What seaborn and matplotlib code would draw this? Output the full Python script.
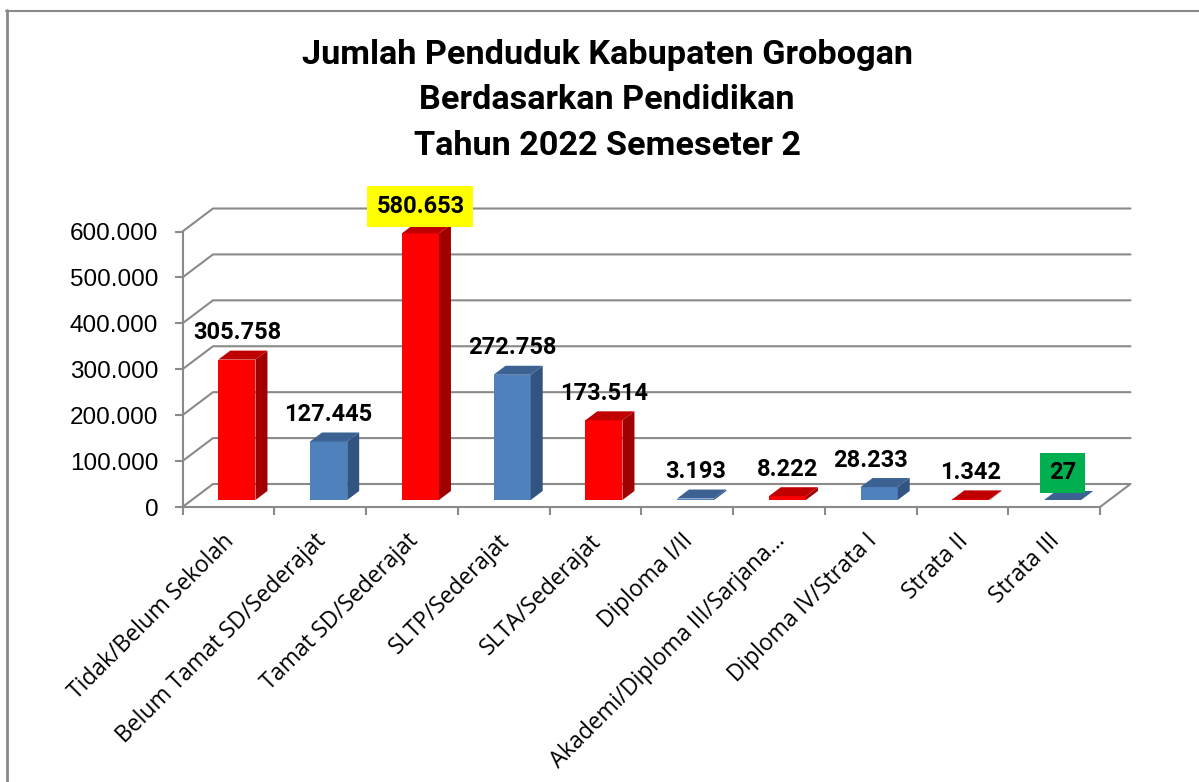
import matplotlib
matplotlib.use('Agg')
import matplotlib.pyplot as plt
import seaborn as sns
import pandas as pd
from matplotlib.lines import Line2D
from matplotlib.patches import Polygon
from matplotlib.ticker import FuncFormatter
from matplotlib.transforms import Affine2D, IdentityTransform

# Data
categories = ['Tidak/Belum Sekolah', 'Belum Tamat SD/Sederajat', 'Tamat SD/Sederajat',
              'SLTP/Sederajat', 'SLTA/Sederajat', 'Diploma I/II',
              'Akademi/Diploma III/Sarjana…', 'Diploma IV/Strata I', 'Strata II', 'Strata III']
values = [305758, 127445, 580653, 272758, 173514, 3193, 8222, 28233, 1342, 27]
bar_colors = ['#ff0000', '#4f81bd', '#ff0000', '#4f81bd', '#ff0000',
              '#4f81bd', '#ff0000', '#4f81bd', '#ff0000', '#4f81bd']
title_lines = ['Jumlah Penduduk Kabupaten Grobogan', 'Berdasarkan Pendidikan', 'Tahun 2022 Semeseter 2']
y_ticks = [0, 100000, 200000, 300000, 400000, 500000, 600000]

W, H = 1199, 782
GRID = '#8a8a8a'
BOLD_FONT = 'Roboto'

# Colours of the side and top faces of the bars
shades = {'#ff0000': ('#a00000', '#c00000'), '#4f81bd': ('#325480', '#3b6292')}

df = pd.DataFrame({'kategori': categories, 'jumlah': values})

sns.set_theme(style='white')
fig = plt.figure(figsize=(W / 100, H / 100), dpi=100)
ax = fig.add_axes([182.5 / W, (H - 507) / H, 917.5 / W, 275.5 / H])
ax.patch.set_alpha(0)

sns.barplot(data=df, x='kategori', y='jumlah', hue='kategori', palette=bar_colors,
            legend=False, width=0.405, saturation=1, ax=ax, zorder=3)
ax.set_xlim(-0.5, 9.5)
ax.set_ylim(0, 600000)
ax.set_xlabel('')
ax.set_ylabel('')


def px(x, y):
    return ax.transData.transform((x, y))


# Walls and floor of the fake 3D box
wall_dx, wall_dy = 30.5, 23
for v in y_ticks:
    x0, y0 = px(-0.5, v)
    x1, _ = px(9.5, v)
    pts = [(x0, y0), (x0 + wall_dx, y0 + wall_dy), (x1 + wall_dx, y0 + wall_dy)]
    if v == 0:
        pts.append((x1, y0))
    ax.add_line(Line2D(*zip(*pts), transform=IdentityTransform(), color=GRID, lw=1.5,
                       zorder=1, clip_on=False))

# Bars: shift the front face into the box, then add side and top
shift_x, shift_y = 8.5, 7
depth_x, depth_y = 12, 9
for patch, color in zip(ax.patches, bar_colors):
    patch.set_transform(ax.transData + Affine2D().translate(shift_x, shift_y))
    patch.set_clip_on(False)
    patch.set_edgecolor('none')
    patch.set_linewidth(0)
    x = patch.get_x()
    w = patch.get_width()
    xl, yb = px(x, 0)
    xr, yt = px(x + w, patch.get_height())
    xl, xr = xl + shift_x, xr + shift_x
    yb, yt = yb + shift_y, yt + shift_y
    side, top = shades[color]
    ax.add_patch(Polygon([(xr, yb), (xr + depth_x, yb + depth_y), (xr + depth_x, yt + depth_y), (xr, yt)],
                         closed=True, transform=IdentityTransform(), facecolor=side, lw=0,
                         zorder=3, clip_on=False))
    ax.add_patch(Polygon([(xl, yt), (xr, yt), (xr + depth_x, yt + depth_y), (xl + depth_x, yt + depth_y)],
                         closed=True, transform=IdentityTransform(), facecolor=top, lw=0,
                         zorder=3, clip_on=False))

# Axes
sns.despine(ax=ax)
for side in ['left', 'bottom']:
    ax.spines[side].set_color(GRID)
    ax.spines[side].set_linewidth(1.5)
ax.set_yticks(y_ticks)
ax.yaxis.set_major_formatter(FuncFormatter(lambda v, _: f'{int(v):,}'.replace(',', '.')))
ax.tick_params(axis='y', left=True, length=5.5, width=1.5, color=GRID, pad=12, labelsize=17.5, labelcolor='black')
for t in ax.get_yticklabels():
    t.set_family('Liberation Sans')

ax.set_xticks(range(len(categories)))
ax.set_xticks([i - 0.5 for i in range(len(categories) + 1)], minor=True)
ax.tick_params(axis='x', which='minor', bottom=True, length=6, width=1.5, color=GRID)
ax.tick_params(axis='x', which='major', bottom=False, pad=10)
ax.set_xticklabels(categories, rotation=45, ha='right', rotation_mode='anchor',
                   fontsize=16.4, family='Open Sans', color='black')
for t in ax.get_xticklabels():
    t.set_transform(t.get_transform() + Affine2D().translate(-6, 0))

# Value labels
label_dx = {7: -9}
label_box = {2: '#ffff00', 9: '#00b050'}
for i, v in enumerate(values):
    x, y = px(i, v)
    box = None
    if i in label_box:
        box = dict(facecolor=label_box[i], edgecolor='none', pad=6.5)
    fig.text((x + shift_x + label_dx.get(i, 0)) / W, (y + shift_y + 27) / H, f'{v:,}'.replace(',', '.'),
             ha='center', va='center', fontsize=17, fontweight='bold', family=BOLD_FONT,
             color='black', bbox=box, zorder=5)

# Title
for line, y in zip(title_lines, [55, 100, 146]):
    fig.text(607 / W, (H - y) / H, line, ha='center', va='center', fontsize=24.7,
             fontweight='bold', family=BOLD_FONT, color='black')

# Chart area border (left and top only are visible)
fig.add_artist(Line2D([7 / W, 7 / W], [0, (H - 10) / H], color=GRID, lw=2))
fig.add_artist(Line2D([6 / W, 1], [(H - 10.5) / H, (H - 10.5) / H], color=GRID, lw=1.5))

fig.savefig('out.png', dpi=100)
